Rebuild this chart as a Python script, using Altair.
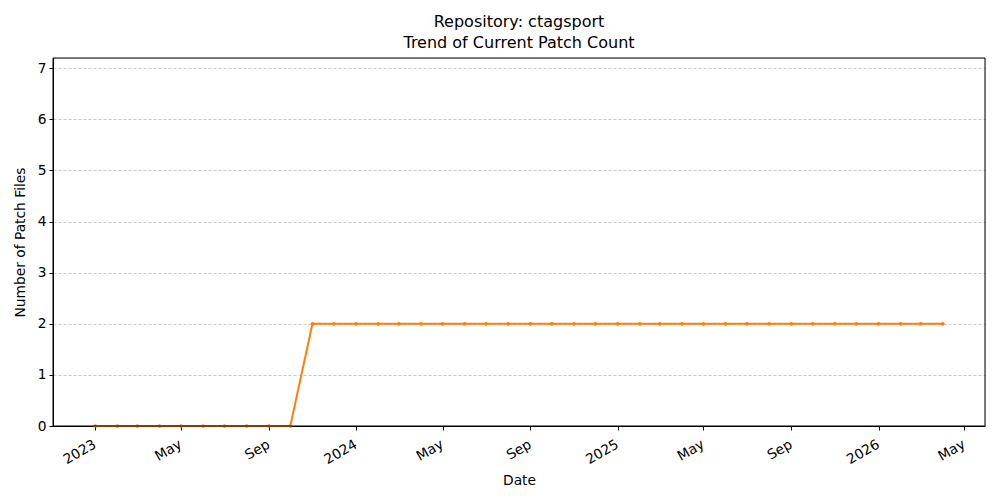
import altair as alt
import pandas as pd

dates = pd.date_range("2023-01-01", "2026-04-01", freq="MS").strftime("%Y-%m-%d").tolist()
counts = [0] * 10 + [2] * 30

df = pd.DataFrame({"date": dates, "count": counts})

tick_dates = [
    alt.DateTime(year=y, month=m, date=1, utc=True)
    for y, m in [(2023, 1), (2023, 5), (2023, 9), (2024, 1), (2024, 5), (2024, 9),
                 (2025, 1), (2025, 5), (2025, 9), (2026, 1), (2026, 5)]
]

FONT = "DejaVu Sans"
ORANGE = "#ff7f0e"
W, H = 932, 368

x = alt.X(
    "date:T",
    title="Date",
    scale=alt.Scale(type="utc",
                    domain=[alt.DateTime(year=2022, month=11, date=3, utc=True),
                            alt.DateTime(year=2026, month=5, date=30, utc=True)]),
    axis=alt.Axis(
        values=tick_dates,
        labelExpr="utcmonth(datum.value) == 0 ? utcFormat(datum.value, '%Y') : utcFormat(datum.value, '%b')",
        labelAngle=330,
        labelAlign="right",
        labelBaseline="top",
        grid=False,
        tickColor="black",
        tickSize=4,
        domainColor="black",
        labelColor="black",
        labelFontSize=13.8,
        labelFont=FONT,
        labelPadding=7,
        labelOffset=-4,
        titleFont=FONT,
        titleFontSize=13.8,
        titleFontWeight="normal",
        titleColor="black",
        titlePadding=7,
        labelOverlap=False,
    ),
)
y = alt.Y(
    "count:Q",
    title="Number of Patch Files",
    scale=alt.Scale(domain=[0, 7.2], nice=False),
    axis=alt.Axis(
        values=[0, 1, 2, 3, 4, 5, 6, 7],
        grid=True,
        gridColor="#b0b0b0",
        gridDash=[3, 2],
        gridWidth=0.7,
        tickColor="black",
        tickSize=4,
        domainColor="black",
        labelColor="black",
        labelFontSize=13.8,
        labelFont=FONT,
        labelPadding=3,
        titleFont=FONT,
        titleFontSize=13.8,
        titleFontWeight="normal",
        titleColor="black",
        titlePadding=10,
    ),
)

base = alt.Chart(df)
line = base.mark_line(color=ORANGE, strokeWidth=2).encode(x=x, y=y)
pts = base.mark_point(color=ORANGE, filled=True, size=14, opacity=1).encode(x=x, y=y)
frame = alt.Chart(pd.DataFrame({"k": [0]})).mark_rect(
    fill=None, fillOpacity=0, stroke="black", strokeWidth=1
).encode(x=alt.value(0), x2=alt.value(W), y=alt.value(0), y2=alt.value(H))

chart = (
    (line + pts + frame)
    .properties(
        width=W,
        height=H,
        title=alt.TitleParams(
            text=["Repository: ctagsport", "Trend of Current Patch Count"],
            font=FONT,
            fontSize=16,
            fontWeight="normal",
            color="black",
            anchor="middle",
            lineHeight=21,
            offset=7,
        ),
        autosize=alt.AutoSizeParams(type="none"),
        padding={"left": 45, "top": 50, "right": 3, "bottom": 64},
    )
    .configure_view(stroke="black", strokeWidth=1)
    .configure(background="white")
)

chart.save("out.html", embed_options={"renderer": "svg", "actions": False})
